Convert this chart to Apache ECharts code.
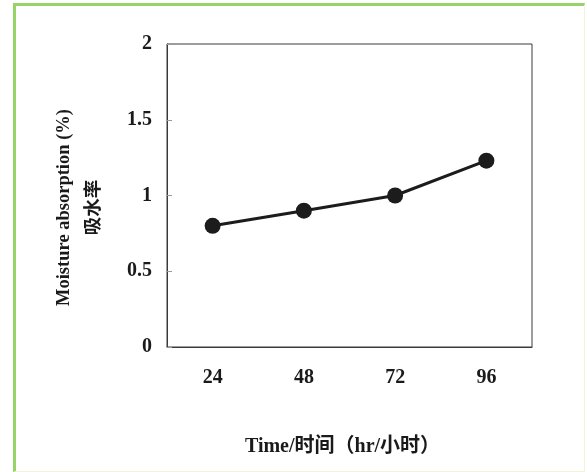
<!DOCTYPE html>
<html>
<head>
<meta charset="utf-8">
<script src="https://cdn.jsdelivr.net/npm/echarts@6/dist/echarts.min.js"></script>
<style>
  html, body { margin: 0; padding: 0; background: #fff; }
  #frame {
    position: absolute; left: 13px; top: 3px; width: 568px; height: 465px;
    border-left: 3px solid #96d46a; border-top: 3px solid #96d46a;
    border-right: 1px solid #f6f3d6; border-bottom: 1px solid #f6f3d6;
  }
  #main { position: absolute; left: 0; top: 0; width: 587px; height: 472px; }
</style>
</head>
<body>
<div id="frame"></div>
<div id="main"></div>
<script>
// hours
const hours = ['24', '48', '72', '96'];
// moisture absorption, %
const absorption = [0.8, 0.9, 1.0, 1.23];

const serif = "'Liberation Serif', 'Times New Roman', 'Noto Sans CJK SC', serif";

let myChart = echarts.init(document.getElementById('main'));
myChart.setOption({
  backgroundColor: 'transparent',
  animation: false,
  grid: {
    left: 167, top: 44, right: 55, bottom: 125,
    show: true, borderColor: '#3a3a3a', borderWidth: 1
  },
  xAxis: {
    type: 'category',
    data: hours,
    boundaryGap: true,
    name: 'Time/时间（hr/小时）',
    nameLocation: 'middle',
    nameGap: 90,
    nameTextStyle: {
      fontFamily: serif, fontWeight: 'bold', fontSize: 20, color: '#1a1a1a',
      padding: [0, 14, 0, 0]
    },
    axisLine: { lineStyle: { color: '#3a3a3a', width: 1 } },
    axisTick: { inside: true, length: 6, lineStyle: { color: '#888' } },
    axisLabel: {
      fontFamily: serif, fontWeight: 'bold', fontSize: 20, color: '#1a1a1a', margin: 21
    }
  },
  yAxis: {
    type: 'value',
    min: 0, max: 2, interval: 0.5,
    name: 'Moisture absorption (%)\n吸水率',
    nameLocation: 'middle',
    nameRotate: 90,
    nameGap: 58,
    nameTextStyle: {
      fontFamily: serif, fontWeight: 'bold', fontSize: 18.5, color: '#1a1a1a',
      lineHeight: 30, padding: [0, 24, 0, 0]
    },
    splitLine: { show: false },
    axisLine: { show: true, lineStyle: { color: '#3a3a3a', width: 1 } },
    axisTick: { show: true, inside: true, length: 5, lineStyle: { color: '#999' } },
    axisLabel: {
      fontFamily: serif, fontWeight: 'bold', fontSize: 20, color: '#1a1a1a', margin: 15
    }
  },
  series: [{
    type: 'line',
    data: absorption,
    symbol: 'circle',
    symbolSize: 16,
    lineStyle: { color: '#1c1c1c', width: 3 },
    itemStyle: { color: '#1c1c1c' }
  }]
});
</script>
</body>
</html>
